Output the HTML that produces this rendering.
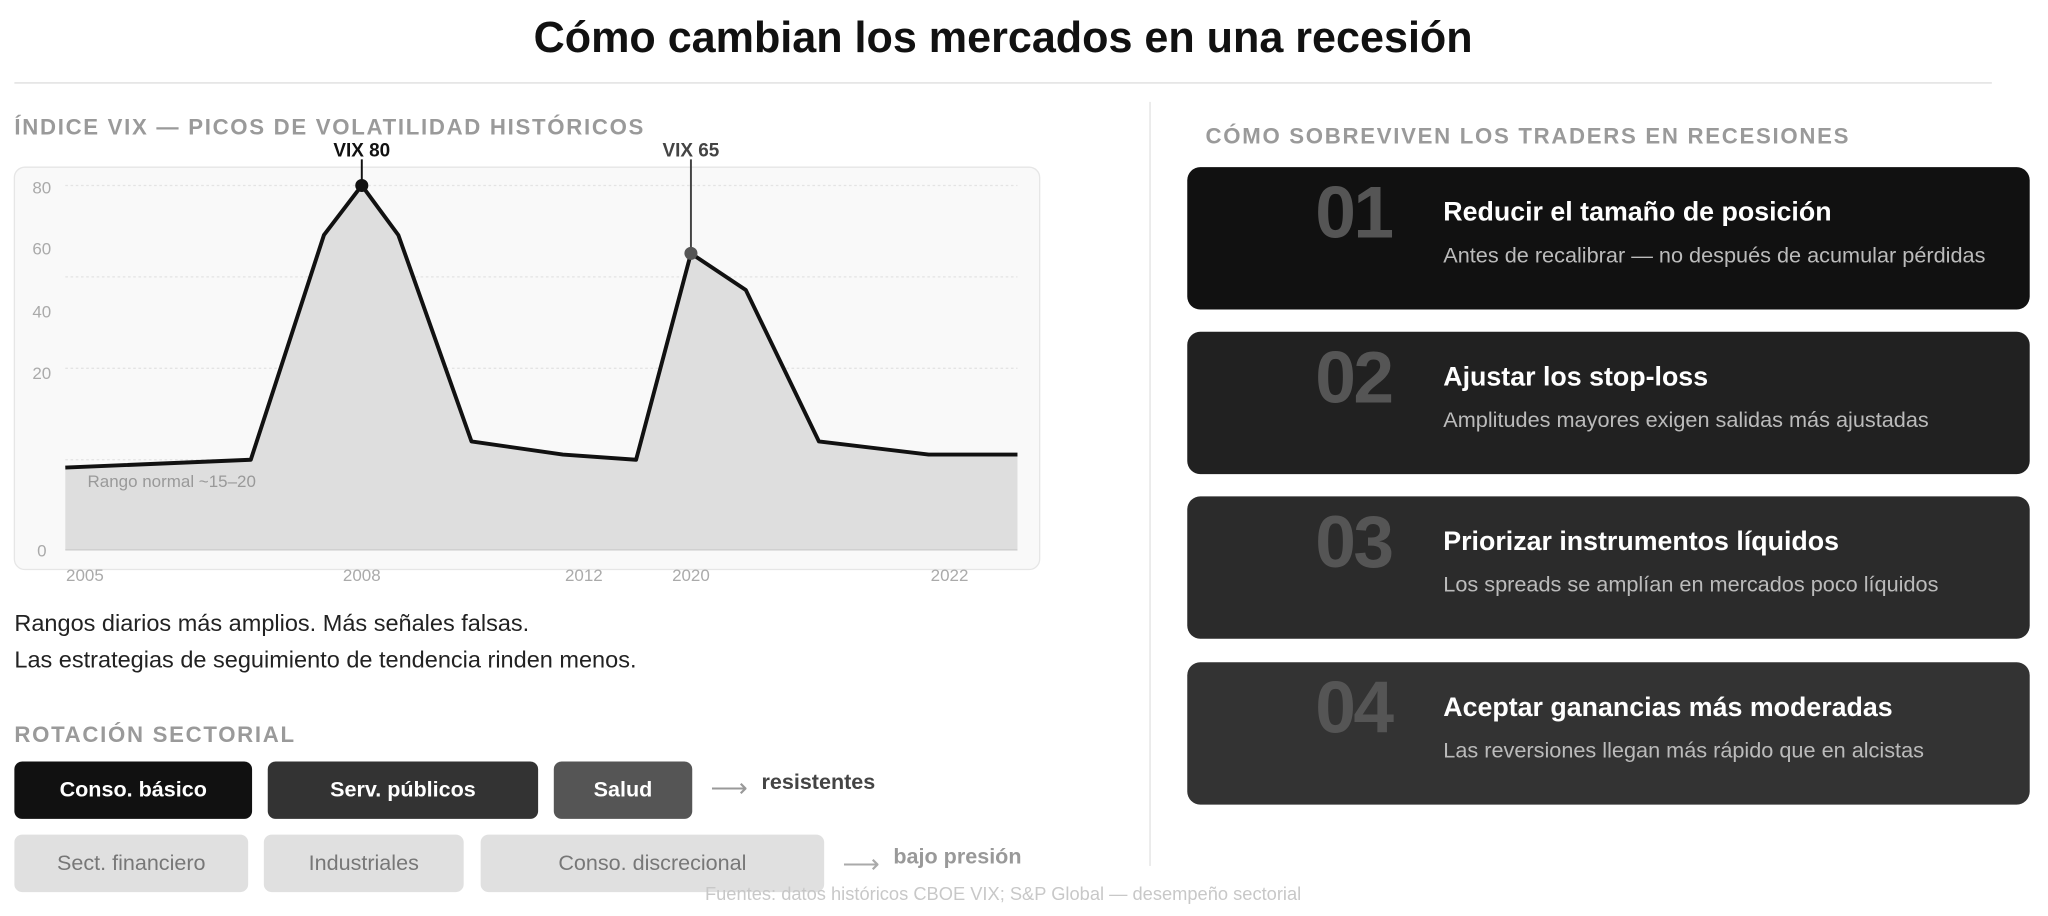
<!DOCTYPE html>
<html><head><meta charset="utf-8"><style>
html,body{margin:0;padding:0;background:#fff;width:2048px;height:916px;overflow:hidden}
#s{position:absolute;left:0;top:0;width:1568px;height:701px;transform:scale(1.30612);transform-origin:0 0;font-family:"Liberation Sans",Arial,sans-serif}
.a{position:absolute;white-space:nowrap}
.h{font-weight:bold;font-size:17px;color:#9a9a9a;letter-spacing:1.3px}
.card{position:absolute;left:909px;width:645px;height:109px;border-radius:10px}
.num{position:absolute;left:98px;top:2px;font-size:56px;font-weight:bold;color:#555;letter-spacing:-2px}
.ct{position:absolute;left:196px;top:23px;font-size:20.5px;font-weight:bold;color:#fff}
.cs{position:absolute;left:196px;top:58px;font-size:16.6px;color:#bbb}
.pill{position:absolute;height:44px;border-radius:6px;display:flex;align-items:center;justify-content:center;font-size:16px}
</style></head><body><div id="s">
<div class="a" style="left:0;width:1536px;text-align:center;top:10px;font-size:33px;font-weight:bold;color:#111">Cómo cambian los mercados en una recesión</div>
<div class="a" style="left:11px;top:63px;width:1514px;height:1px;background:#ddd"></div>
<div class="a" style="left:880px;top:78px;width:1px;height:585px;background:#e2e2e2"></div>
<div class="a h" style="left:11px;top:88px">ÍNDICE VIX — PICOS DE VOLATILIDAD HISTÓRICOS</div>
<svg class="a" style="left:0;top:0" width="880" height="460">
<rect x="11" y="128" width="785" height="308" rx="8" fill="#f9f9f9" stroke="#e6e6e6"/>
<g stroke="#e4e4e4" stroke-dasharray="2,2"><line x1="50" x2="779" y1="142" y2="142"/><line x1="50" x2="779" y1="212" y2="212"/><line x1="50" x2="779" y1="282" y2="282"/><line x1="50" x2="779" y1="352" y2="352"/></g>
<polygon points="50,358 192,352 248,180 277,142 305,180 361,338 431,348 487,352 529,194 571,222 627,338 711,348 779,348 779,421 50,421" fill="#dedede"/>
<line x1="50" x2="779" y1="421" y2="421" stroke="#ccc"/>
<polyline points="50,358 192,352 248,180 277,142 305,180 361,338 431,348 487,352 529,194 571,222 627,338 711,348 779,348" fill="none" stroke="#111" stroke-width="3" stroke-linejoin="round"/>
<line x1="277" x2="277" y1="122" y2="142" stroke="#111" stroke-width="1.5"/>
<line x1="529" x2="529" y1="122" y2="194" stroke="#444" stroke-width="1.5"/>
<circle cx="277" cy="142" r="5" fill="#111"/><circle cx="529" cy="194" r="5" fill="#555"/>
<g font-family="Liberation Sans,Arial,sans-serif" font-weight="bold" font-size="14.5" text-anchor="middle"><text x="277" y="120" fill="#111">VIX 80</text><text x="529" y="120" fill="#444">VIX 65</text></g>
<g font-family="Liberation Sans,Arial,sans-serif" font-size="13" fill="#aaa" text-anchor="middle">
<text x="32" y="148">80</text><text x="32" y="195">60</text><text x="32" y="243">40</text><text x="32" y="290">20</text><text x="32" y="426">0</text>
<text x="65" y="445">2005</text><text x="277" y="445">2008</text><text x="447" y="445">2012</text><text x="529" y="445">2020</text><text x="727" y="445">2022</text>
<text x="67" y="373" text-anchor="start" fill="#999">Rango normal ~15–20</text></g>
</svg>
<div class="a" style="left:11px;top:467px;font-size:18px;color:#222">Rangos diarios más amplios. Más señales falsas.</div>
<div class="a" style="left:11px;top:495px;font-size:18px;color:#222">Las estrategias de seguimiento de tendencia rinden menos.</div>
<div class="a h" style="left:11px;top:553px">ROTACIÓN SECTORIAL</div>
<div class="pill" style="left:11px;top:583px;width:182px;background:#111;color:#fff;font-weight:bold;font-size:16.5px">Conso. básico</div>
<div class="pill" style="left:205px;top:583px;width:207px;background:#333;color:#fff;font-weight:bold;font-size:16.5px">Serv. públicos</div>
<div class="pill" style="left:424px;top:583px;width:106px;background:#555;color:#fff;font-weight:bold;font-size:16.5px">Salud</div>
<div class="a" style="left:544px;top:591px;font-size:20px;color:#999">⟶</div>
<div class="a" style="left:583px;top:590px;font-size:16.5px;font-weight:bold;color:#444">resistentes</div>
<div class="pill" style="left:11px;top:639px;width:179px;background:#e0e0e0;color:#777;font-size:16.5px">Sect. financiero</div>
<div class="pill" style="left:202px;top:639px;width:153px;background:#e0e0e0;color:#777;font-size:16.5px">Industriales</div>
<div class="pill" style="left:368px;top:639px;width:263px;background:#e0e0e0;color:#777;font-size:16.5px">Conso. discrecional</div>
<div class="a" style="left:645px;top:649px;font-size:20px;color:#aaa">⟶</div>
<div class="a" style="left:684px;top:647px;font-size:16.5px;font-weight:bold;color:#999">bajo presión</div>
<div class="a" style="left:0;width:1536px;text-align:center;top:676px;font-size:14px;color:#c8c8c8">Fuentes: datos históricos CBOE VIX; S&amp;P Global — desempeño sectorial</div>
<div class="a h" style="left:923px;top:95px">CÓMO SOBREVIVEN LOS TRADERS EN RECESIONES</div>
<div class="card" style="top:128px;background:#111"><div class="num">01</div><div class="ct">Reducir el tamaño de posición</div><div class="cs">Antes de recalibrar — no después de acumular pérdidas</div></div>
<div class="card" style="top:254px;background:#212121"><div class="num">02</div><div class="ct">Ajustar los stop-loss</div><div class="cs">Amplitudes mayores exigen salidas más ajustadas</div></div>
<div class="card" style="top:380px;background:#2b2b2b"><div class="num">03</div><div class="ct">Priorizar instrumentos líquidos</div><div class="cs">Los spreads se amplían en mercados poco líquidos</div></div>
<div class="card" style="top:507px;background:#333"><div class="num">04</div><div class="ct">Aceptar ganancias más moderadas</div><div class="cs">Las reversiones llegan más rápido que en alcistas</div></div>
</div></body></html>
